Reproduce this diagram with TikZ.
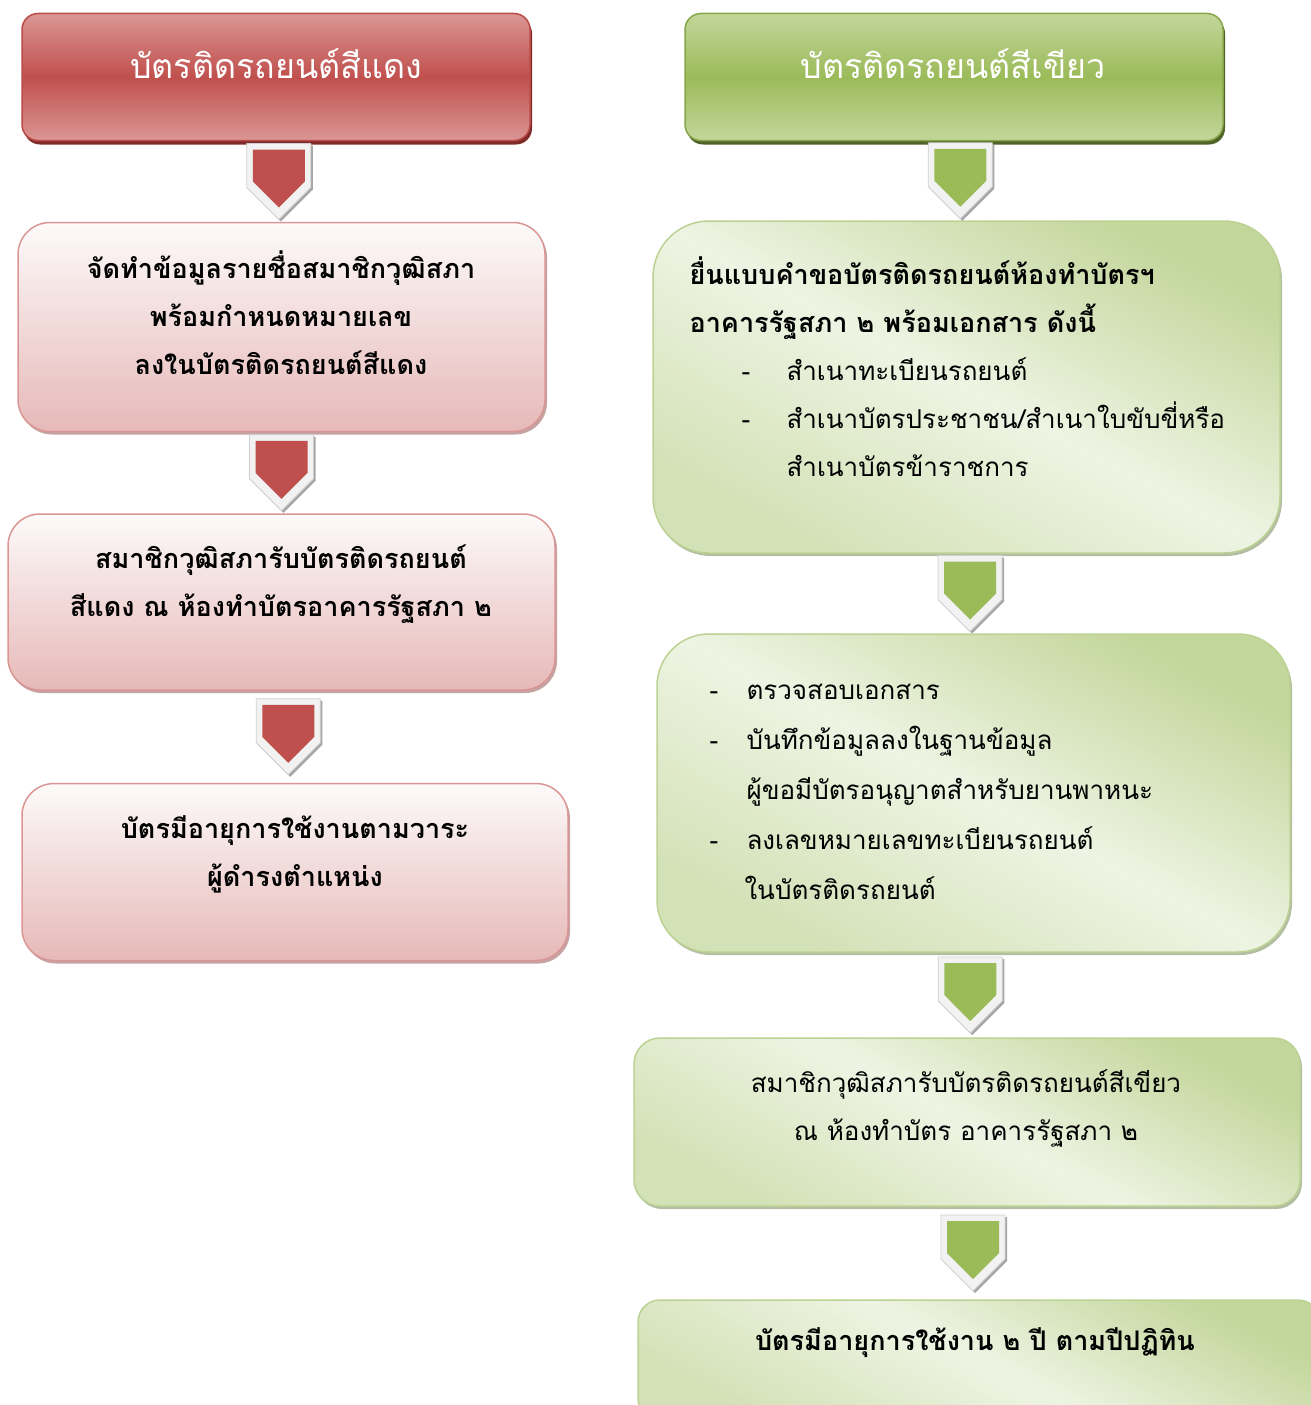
\documentclass[tikz,border=0pt]{standalone}
\usepackage{fontspec}
\newfontfamily\thaifont[Script=Thai]{Loma}
\usetikzlibrary{shapes.symbols,shadows,calc}
\definecolor{redmid}{HTML}{C0504D}
\definecolor{redlt}{HTML}{DA9694}
\definecolor{redline}{HTML}{B94B48}
\definecolor{redshade}{HTML}{7F2A28}
\definecolor{pinktop}{HTML}{FDFAFA}
\definecolor{pinkbot}{HTML}{E6B9B8}
\definecolor{pinkline}{HTML}{D99694}
\definecolor{pinkshade}{HTML}{C4A3A2}
\definecolor{greenmid}{HTML}{9BBB59}
\definecolor{greenlt}{HTML}{C3D69B}
\definecolor{greenline}{HTML}{86A64A}
\definecolor{greenshade}{HTML}{4F6228}
\definecolor{paletop}{HTML}{EEF4E3}
\definecolor{paledark}{HTML}{C3D69B}
\definecolor{palemid}{HTML}{D3E1B6}
\definecolor{paleline}{HTML}{BCD293}
\definecolor{paleshade}{HTML}{B3BDA3}
\definecolor{rimfill}{HTML}{F2F2F2}
\definecolor{rimline}{HTML}{D0D0D0}
\begin{document}
\begin{tikzpicture}
[
x = 1pt, y = -1pt,
redhead/.style = {draw=redline, line width=1.5pt, rounded corners=16pt, top color=redlt, bottom color=redlt, middle color=redmid, drop shadow={shadow xshift=2pt, shadow yshift=-4pt, fill=redshade, opacity=1}},
redbox/.style = {draw=pinkline, line width=1.5pt, rounded corners=32pt, top color=pinktop, bottom color=pinkbot, drop shadow={shadow xshift=2pt, shadow yshift=-3pt, fill=pinkshade, opacity=1}},
greenhead/.style = {draw=greenline, line width=1.5pt, rounded corners=16pt, top color=greenlt, bottom color=greenlt, middle color=greenmid, drop shadow={shadow xshift=2pt, shadow yshift=-4pt, fill=greenshade, opacity=1}},
greenbox/.style = {draw=paleline, line width=1.5pt, left color=paledark, right color=palemid, middle color=paletop, shading angle=-28, drop shadow={shadow xshift=2pt, shadow yshift=-3pt, fill=paleshade, opacity=1}},
rim/.style = {signal, signal to=south, signal pointer angle=90, inner sep=0pt, minimum width=64pt, minimum height=44pt, yshift=16pt, fill=rimfill, draw=rimline, line width=0.8pt, drop shadow={shadow xshift=2pt, shadow yshift=-2pt, fill=black!35, opacity=1}},
redcore/.style = {signal, signal to=south, signal pointer angle=90, inner sep=0pt, minimum width=52pt, minimum height=32pt, fill=redmid},
greencore/.style = {signal, signal to=south, signal pointer angle=90, inner sep=0pt, minimum width=52pt, minimum height=32pt, fill=greenmid},
headtext/.style = {text=white, font=\thaifont\fontsize{34}{40}\selectfont},
bodytext/.style = {align=center, font=\thaifont\fontsize{26}{48}\selectfont},
boldtext/.style = {align=center, font=\thaifont\bfseries\fontsize{27}{48}\selectfont},
listtext/.style = {align=left, anchor=west, font=\thaifont\fontsize{26}{48}\selectfont}
]
\useasboundingbox (0,0) rectangle (1311,1405);

% red card
\node [redhead, minimum width=508pt, minimum height=127pt] (r0) at (276,77) {};
\node [headtext] (r0t) at (276,64) {บัตรติดรถยนต์สีแดง};
\node [redbox, minimum width=527pt, minimum height=209pt] (r1) at (281.5,327) {};
\node [boldtext] (r1t) at (281,313)
    {จัดทำข้อมูลรายชื่อสมาชิกวุฒิสภา\\พร้อมกำหนดหมายเลข\\ลงในบัตรติดรถยนต์สีแดง};
\node [redbox, minimum width=547pt, minimum height=176pt] (r2) at (281.5,602) {};
\node [boldtext] (r2t) at (281,584)
    {สมาชิกวุฒิสภารับบัตรติดรถยนต์\\สีแดง ณ ห้องทำบัตรอาคารรัฐสภา ๒};
\node [redbox, minimum width=546pt, minimum height=177pt] (r3) at (295,872) {};
\node [boldtext] (r3t) at (295,854)
    {บัตรมีอายุการใช้งานตามวาระ\\ผู้ดำรงตำแหน่ง};

\node [rim] (a1) at ($(r0.south)!.5!(r1.north)$) {};
\node [redcore] at (a1) {};
\node [rim] (a2) at ($(r1.south)!.5!(r2.north)$) {};
\node [redcore] at (a2) {};
\node [rim] (a3) at ($(r2.south)!.5!(r3.north)$) {};
\node [redcore] at (a3) {};

% green card
\node [greenhead, minimum width=538pt, minimum height=127pt] (g0) at (954,77) {};
\node [headtext] (g0t) at (953,64) {บัตรติดรถยนต์สีเขียว};
\node [greenbox, rounded corners=56pt, minimum width=627pt, minimum height=332pt] (g1) at (966.5,387) {};
\node [listtext] (g1t) at (686,367)
    {\textbf{\fontsize{27}{48}\selectfont ยื่นแบบคำขอบัตรติดรถยนต์ห้องทำบัตรฯ}\\
     \textbf{\fontsize{27}{48}\selectfont อาคารรัฐสภา ๒ พร้อมเอกสาร ดังนี้}\\
     \hspace*{52pt}\makebox[45pt][l]{-}สำเนาทะเบียนรถยนต์\\
     \hspace*{52pt}\makebox[45pt][l]{-}สำเนาบัตรประชาชน/สำเนาใบขับขี่หรือ\\
     \hspace*{97pt}สำเนาบัตรข้าราชการ};
\node [greenbox, rounded corners=52pt, minimum width=633pt, minimum height=318pt] (g2) at (973.5,793) {};
\node [listtext, font=\thaifont\fontsize{26}{50}\selectfont] (g2t) at (706,792)
    {\makebox[37pt][l]{-}ตรวจสอบเอกสาร\\
     \makebox[37pt][l]{-}บันทึกข้อมูลลงในฐานข้อมูล\\
     \hspace*{37pt}ผู้ขอมีบัตรอนุญาตสำหรับยานพาหนะ\\
     \makebox[37pt][l]{-}ลงเลขหมายเลขทะเบียนรถยนต์\\
     \hspace*{35pt}ในบัตรติดรถยนต์};
\node [greenbox, rounded corners=26pt, minimum width=666pt, minimum height=168pt] (g3) at (967,1122) {};
\node [bodytext] (g3t) at (966,1108)
    {สมาชิกวุฒิสภารับบัตรติดรถยนต์สีเขียว\\ณ ห้องทำบัตร อาคารรัฐสภา ๒};
\node [greenbox, rounded corners=22pt, minimum width=682pt, minimum height=120pt] (g4) at (979,1360) {};
\node [boldtext] (g4t) at (975,1343)
    {บัตรมีอายุการใช้งาน ๒ ปี ตามปีปฏิทิน};

\node [rim] (b1) at ($(g0.south)!.5!(g1.north)$) {};
\node [greencore] at (b1) {};
\node [rim] (b2) at ($(g1.south)!.5!(g2.north)$) {};
\node [greencore] at (b2) {};
\node [rim] (b3) at ($(g2.south)!.5!(g3.north)$) {};
\node [greencore] at (b3) {};
\node [rim] (b4) at ($(g3.south)!.5!(g4.north)$) {};
\node [greencore] at (b4) {};
\end{tikzpicture}
\end{document}
